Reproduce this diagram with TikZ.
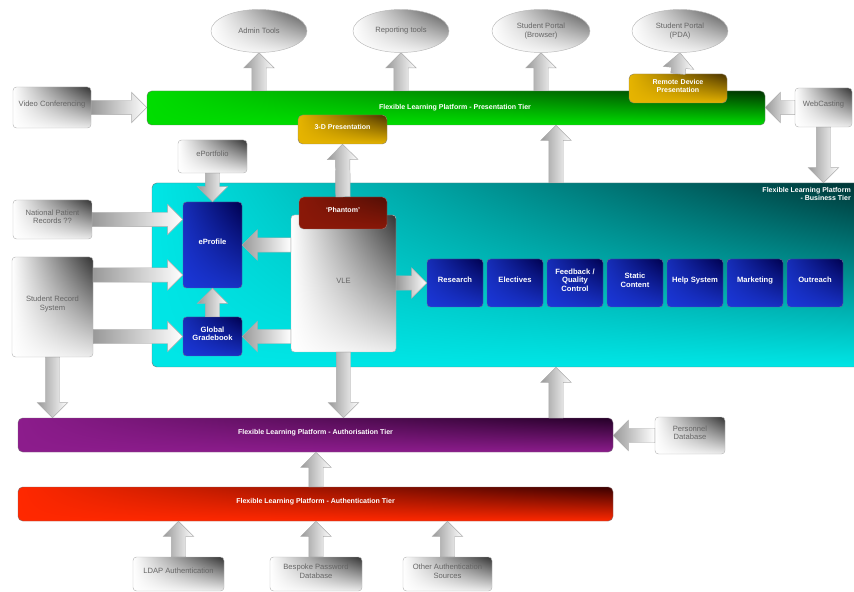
\documentclass[tikz,border=0pt]{standalone}
\usepackage{fontspec}
\setmainfont{Liberation Sans}
\usetikzlibrary{shapes.geometric,shapes.arrows,shadings,fit,calc}

\definecolor{presGreen}{HTML}{00DD00}
\definecolor{presDark}{HTML}{003300}
\definecolor{authPurple}{HTML}{8C1C8C}
\definecolor{authDark}{HTML}{250028}
\definecolor{authRed}{HTML}{FF2800}
\definecolor{authRedDark}{HTML}{3A0000}
\definecolor{busCyan}{HTML}{00E6E6}
\definecolor{busDark}{HTML}{003030}
\definecolor{modBlue}{HTML}{1A36D8}
\definecolor{modNavy}{HTML}{000050}
\definecolor{gold}{HTML}{E6B400}
\definecolor{goldDark}{HTML}{4A3300}
\definecolor{phantomRed}{HTML}{8A1808}

\tikzset{
  greybox/.style={draw=gray!55, rounded corners=3pt, inner sep=0pt, align=center,
    text=black!60, font=\fontsize{6.5}{7.5}\selectfont,
    upper left=white, lower left=white, lower right=gray!15, upper right=black!80},
  greyoval/.style={ellipse, draw=gray!55, inner sep=0pt, align=center,
    text=black!60, font=\fontsize{6.5}{7.5}\selectfont,
    upper left=white, lower left=white, lower right=gray!15, upper right=black!70},
  tierbar/.style 2 args={rounded corners=4pt, inner sep=0pt, draw=#2!60,
    upper left=#1, lower left=#1, lower right=#1, upper right=#2},
  tiertext/.style={text=white, inner sep=0pt, font=\bfseries\fontsize{6}{7}\selectfont},
  modbox/.style={rounded corners=3pt, inner sep=0pt, align=center, draw=modNavy!60,
    text=white, font=\bfseries\fontsize{6.5}{7.5}\selectfont,
    upper left=modBlue!85!black, lower left=modBlue, lower right=modBlue!90!black, upper right=modNavy},
  fatarrow/.style={single arrow, draw=gray!65, inner xsep=0pt, inner ysep=0.21cm,
    outer sep=0pt, single arrow head extend=0.24cm, single arrow head indent=0pt,
    left color=gray!80, right color=white}
}

\begin{document}
\begin{tikzpicture}[x=0.03cm, y=-0.03cm]
\newcommand{\fatArrow}[2]{%
  \path let \p1=(#1), \p2=(#2), \n1={veclen(\x2-\x1,\y2-\y1)}, \n2={atan2(\y2-\y1,\x2-\x1)} in
    node[fatarrow, minimum height=\n1, rotate=\n2, anchor=tail] at (\p1) {};}
\useasboundingbox (0,0) rectangle (854,592);
\clip (0,0) rectangle (854,592);

% business tier
\node[tierbar={busCyan}{busDark}, fit={(152,183) (880,367)}] (nBusTier) {};
\node[tiertext, anchor=north east, align=right] (nBusText) at (851,187) {Flexible Learning Platform\\- Business Tier};

% presentation tier
\node[tierbar={presGreen}{presDark}, fit={(147,91) (765,125)}] (nPresTier) {};
\node[tiertext] (nPresText) at (455,108) {Flexible Learning Platform - Presentation Tier};

% authorisation / authentication tiers
\node[tierbar={authPurple}{authDark}, fit={(18,418) (613,452)}, tiertext] (nAuthTier) {Flexible Learning Platform - Authorisation Tier};
\node[tierbar={authRed}{authRedDark}, fit={(18,487) (613,521)}, tiertext] (nAuthenTier) {Flexible Learning Platform - Authentication Tier};

% top ovals
\node[greyoval, minimum width=2.88cm, minimum height=1.29cm] (nAdmin) at (259,31) {Admin Tools};
\node[greyoval, minimum width=2.88cm, minimum height=1.29cm] (nReport) at (401,31) {Reporting tools};
\node[greyoval, minimum width=2.94cm, minimum height=1.29cm] (nBrowser) at (541,31) {Student Portal\\(Browser)};
\node[greyoval, minimum width=2.88cm, minimum height=1.29cm] (nPDA) at (680,31) {Student Portal\\(PDA)};

% side sources
\node[greybox, fit={(13,87) (91,128)}] (nVideo) {Video Conferencing};
\node[greybox, fit={(795,88) (852,127)}] (nWeb) {WebCasting};
\node[greybox, fit={(178,140) (247,173)}] (nPortfolio) {ePortfolio};
\node[greybox, fit={(13,200) (92,239)}] (nNational) {National Patient\\Records ??};
\node[greybox, fit={(12,257) (93,357)}] (nRecord) {Student Record\\System};
\node[greybox, fit={(655,417) (725,454)}] (nPersonnel) {Personnel\\Database};
\node[greybox, fit={(133,557) (224,591)}] (nLDAP) {LDAP Authentication};
\node[greybox, fit={(270,557) (362,591)}] (nBespoke) {Bespoke Password\\Database};
\node[greybox, fit={(403,557) (492,591)}] (nOther) {Other Authentication\\Sources};

% presentation boxes
\node[tierbar={gold}{goldDark}, fit={(629,74) (727,103)}, tiertext, align=center] (nRemote) {Remote Device\\Presentation};
\node[tierbar={gold}{goldDark}, fit={(298,115) (387,144)}, tiertext] (nThreeD) {3-D Presentation};

% business tier contents
\node[greybox, fit={(291,215) (396,352)}] (nVLE) {VLE};
\node[tierbar={phantomRed}{phantomRed!60!black}, fit={(299,197) (387,229)}, tiertext] (nPhantom) {`Phantom'};
\node[modbox, fit={(183,202) (242,288)}] (nEProfile) {eProfile};
\node[modbox, fit={(183,317) (242,356)}] (nGradebook) {Global\\Gradebook};
\foreach \nm/\txt [count=\i from 0] in {Research/Research, Electives/Electives,
    Feedback/{Feedback \slash\\Quality\\Control}, Static/{Static\\Content},
    Help/{Help System}, Marketing/Marketing, Outreach/Outreach}
{
    \node[modbox, fit={(427+60*\i,259) (483+60*\i,307)}] (n\nm) {\txt};
};

\coordinate (cRecordPt) at (93,275);
\coordinate (cUpPt) at (556,418);

% arrows
\fatArrow{nVideo.east}{nVideo.east -| nPresTier.west}
\fatArrow{nWeb.west}{nWeb.west -| nPresTier.east}
\fatArrow{nWeb.south}{nWeb.south |- nBusTier.north}
\foreach \nd in {nAdmin, nReport, nBrowser}
{
    \fatArrow{nPresTier.north -| \nd.south}{\nd.south}
};
\fatArrow{nRemote.north}{nPDA.south}
\fatArrow{nPhantom.north}{nThreeD.south}
\fatArrow{nPortfolio.south}{nEProfile.north}
\fatArrow{nNational.east}{nNational.east -| nEProfile.west}
\fatArrow{cRecordPt}{cRecordPt -| nEProfile.west}
\fatArrow{nRecord.east |- nGradebook}{nGradebook.west}
\fatArrow{nGradebook.north}{nEProfile.south}
\fatArrow{nVLE.west |- nEProfile}{nEProfile.east}
\fatArrow{nVLE.west |- nGradebook}{nGradebook.east}
\fatArrow{nVLE.east |- nResearch}{nResearch.west}
\fatArrow{nVLE.south}{nVLE.south |- nAuthTier.north}
\fatArrow{nRecord.south}{nRecord.south |- nAuthTier.north}
\fatArrow{cUpPt}{cUpPt |- nBusTier.south}
\fatArrow{nBusTier.north -| cUpPt}{cUpPt |- nPresTier.south}
\fatArrow{nPersonnel.west}{nPersonnel.west -| nAuthTier.east}
\fatArrow{nAuthenTier.north -| nBespoke}{nAuthTier.south -| nBespoke}
\foreach \nd in {nLDAP, nBespoke, nOther}
{
    \fatArrow{\nd.north}{\nd.north |- nAuthenTier.south}
};

\end{tikzpicture}
\end{document}
